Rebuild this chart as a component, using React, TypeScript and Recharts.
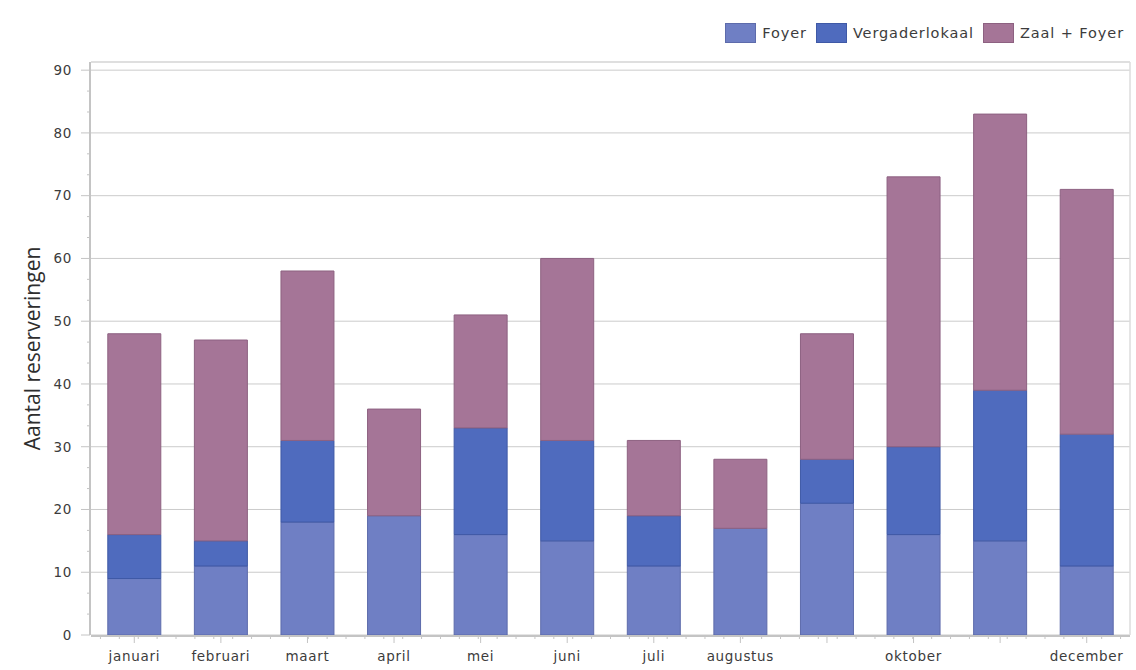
import React from "react";
import { BarChart, Bar, XAxis, YAxis, CartesianGrid } from "recharts";

const months = [
  "januari", "februari", "maart", "april", "mei", "juni",
  "juli", "augustus", "september", "oktober", "november", "december",
];
// labels the original shows under the axis (september / november are skipped)
const monthLabels = [
  "januari", "februari", "maart", "april", "mei", "juni",
  "juli", "augustus", "", "oktober", "", "december",
];
const foyer = [9, 11, 18, 19, 16, 15, 11, 17, 21, 16, 15, 11];
const vergaderlokaal = [7, 4, 13, 0, 17, 16, 8, 0, 7, 14, 24, 21];
const zaalFoyer = [32, 32, 27, 17, 18, 29, 12, 11, 20, 43, 44, 39];
const yTicks = [0, 10, 20, 30, 40, 50, 60, 70, 80, 90];

const seriesNames = ["Foyer", "Vergaderlokaal", "Zaal + Foyer"];
const fills = ["#6f7fc4", "#4f6bbe", "#a57597"];
const strokes = ["#5d6bab", "#3f59a6", "#8d6181"];

const data = months.map((m, i) => ({
  month: m,
  foyer: foyer[i],
  vergaderlokaal: vergaderlokaal[i],
  zaal: zaalFoyer[i],
}));
const keys = ["foyer", "vergaderlokaal", "zaal"];

const yMax = 91.3;
const yMinor: number[] = [];
for (let v = 0; v < 90; v += 10) {
  yMinor.push(v + 10 / 3, v + 20 / 3);
}
const xMinor: number[] = [];
for (let k = 0; k < 12; k++) {
  for (let j = 0; j < 5; j++) xMinor.push(k + 0.1 + j * 0.2);
}

const axisGray = "#c4c4c4";
const textColor = "#3c3c3c";
const tickFont = { fontFamily: "DejaVu Sans", fontSize: 13.5, fill: textColor, letterSpacing: 0.7 };
const noLabel = () => <g />;

function Legend() {
  return (
    <div
      style={{
        position: "absolute",
        top: 23,
        right: 12,
        display: "flex",
        alignItems: "center",
        fontFamily: "DejaVu Sans",
        fontSize: 14.5,
        letterSpacing: 0.9,
        color: textColor,
      }}
    >
      {seriesNames.map((name, i) => (
        <div key={name} style={{ display: "flex", alignItems: "center", marginLeft: i === 0 ? 0 : 9 }}>
          <div
            style={{
              width: 29,
              height: 18,
              background: fills[i],
              border: `1px solid ${strokes[i]}`,
              marginRight: 6,
            }}
          />
          <span>{name}</span>
        </div>
      ))}
    </div>
  );
}

export default function App() {
  return (
    <div style={{ position: "absolute", left: 0, top: 0, width: 1136, height: 670, background: "#fff" }}>
      <Legend />
      <BarChart
        width={1136}
        height={670}
        data={data}
        margin={{ top: 61, right: 5, bottom: 0, left: 0 }}
        barCategoryGap="19.4%"
      >
        <CartesianGrid vertical={false} stroke="#cbcbcb" yAxisId="main" xAxisId="main" />
        <XAxis
          xAxisId="fine"
          type="number"
          domain={[0, 12]}
          allowDataOverflow
          ticks={xMinor}
          interval={0}
          height={1}
          tick={noLabel}
          tickSize={4}
          tickLine={{ stroke: axisGray }}
          axisLine={false}
        />
        <XAxis
          xAxisId="main"
          dataKey="month"
          height={34}
          interval={0}
          tickSize={7}
          tickMargin={8}
          tickLine={{ stroke: axisGray }}
          axisLine={{ stroke: axisGray, strokeWidth: 2 }}
          tick={tickFont}
          tickFormatter={(_v: string, i: number) => monthLabels[i]}
        />
        <XAxis
          xAxisId="top"
          dataKey="month"
          orientation="top"
          height={1}
          tick={false}
          tickLine={false}
          axisLine={{ stroke: "#dcdcdc", strokeWidth: 1.5 }}
        />
        <YAxis
          yAxisId="fine"
          type="number"
          domain={[0, yMax]}
          allowDataOverflow
          ticks={yMinor}
          interval={0}
          width={1}
          tick={noLabel}
          tickSize={4}
          tickLine={{ stroke: axisGray }}
          axisLine={false}
        />
        <YAxis
          yAxisId="main"
          domain={[0, yMax]}
          allowDataOverflow
          ticks={yTicks}
          interval={0}
          width={90}
          tickSize={9}
          tickMargin={9}
          tickLine={{ stroke: axisGray }}
          axisLine={{ stroke: axisGray, strokeWidth: 2 }}
          tick={tickFont}
          label={(props: any) => {
            const vb = props.viewBox || {};
            const cy = (vb.y ?? 62) + (vb.height ?? 573) / 2;
            return (
              <text
                x={32}
                y={cy}
                transform={`rotate(-90 32 ${cy})`}
                textAnchor="middle"
                dominantBaseline="central"
                fontFamily="Open Sans"
                fontSize={21}
                fill="#2e2e2e"
              >
                Aantal reserveringen
              </text>
            );
          }}
        />
        <YAxis
          yAxisId="right"
          orientation="right"
          domain={[0, yMax]}
          allowDataOverflow
          width={1}
          tick={false}
          tickLine={false}
          axisLine={{ stroke: "#dcdcdc", strokeWidth: 1.5 }}
        />
        {keys.map((k, i) => (
          <Bar
            key={k}
            dataKey={k}
            name={seriesNames[i]}
            stackId="a"
            xAxisId="main"
            yAxisId="main"
            fill={fills[i]}
            stroke={strokes[i]}
            strokeWidth={1}
            isAnimationActive={false}
          />
        ))}
      </BarChart>
    </div>
  );
}
